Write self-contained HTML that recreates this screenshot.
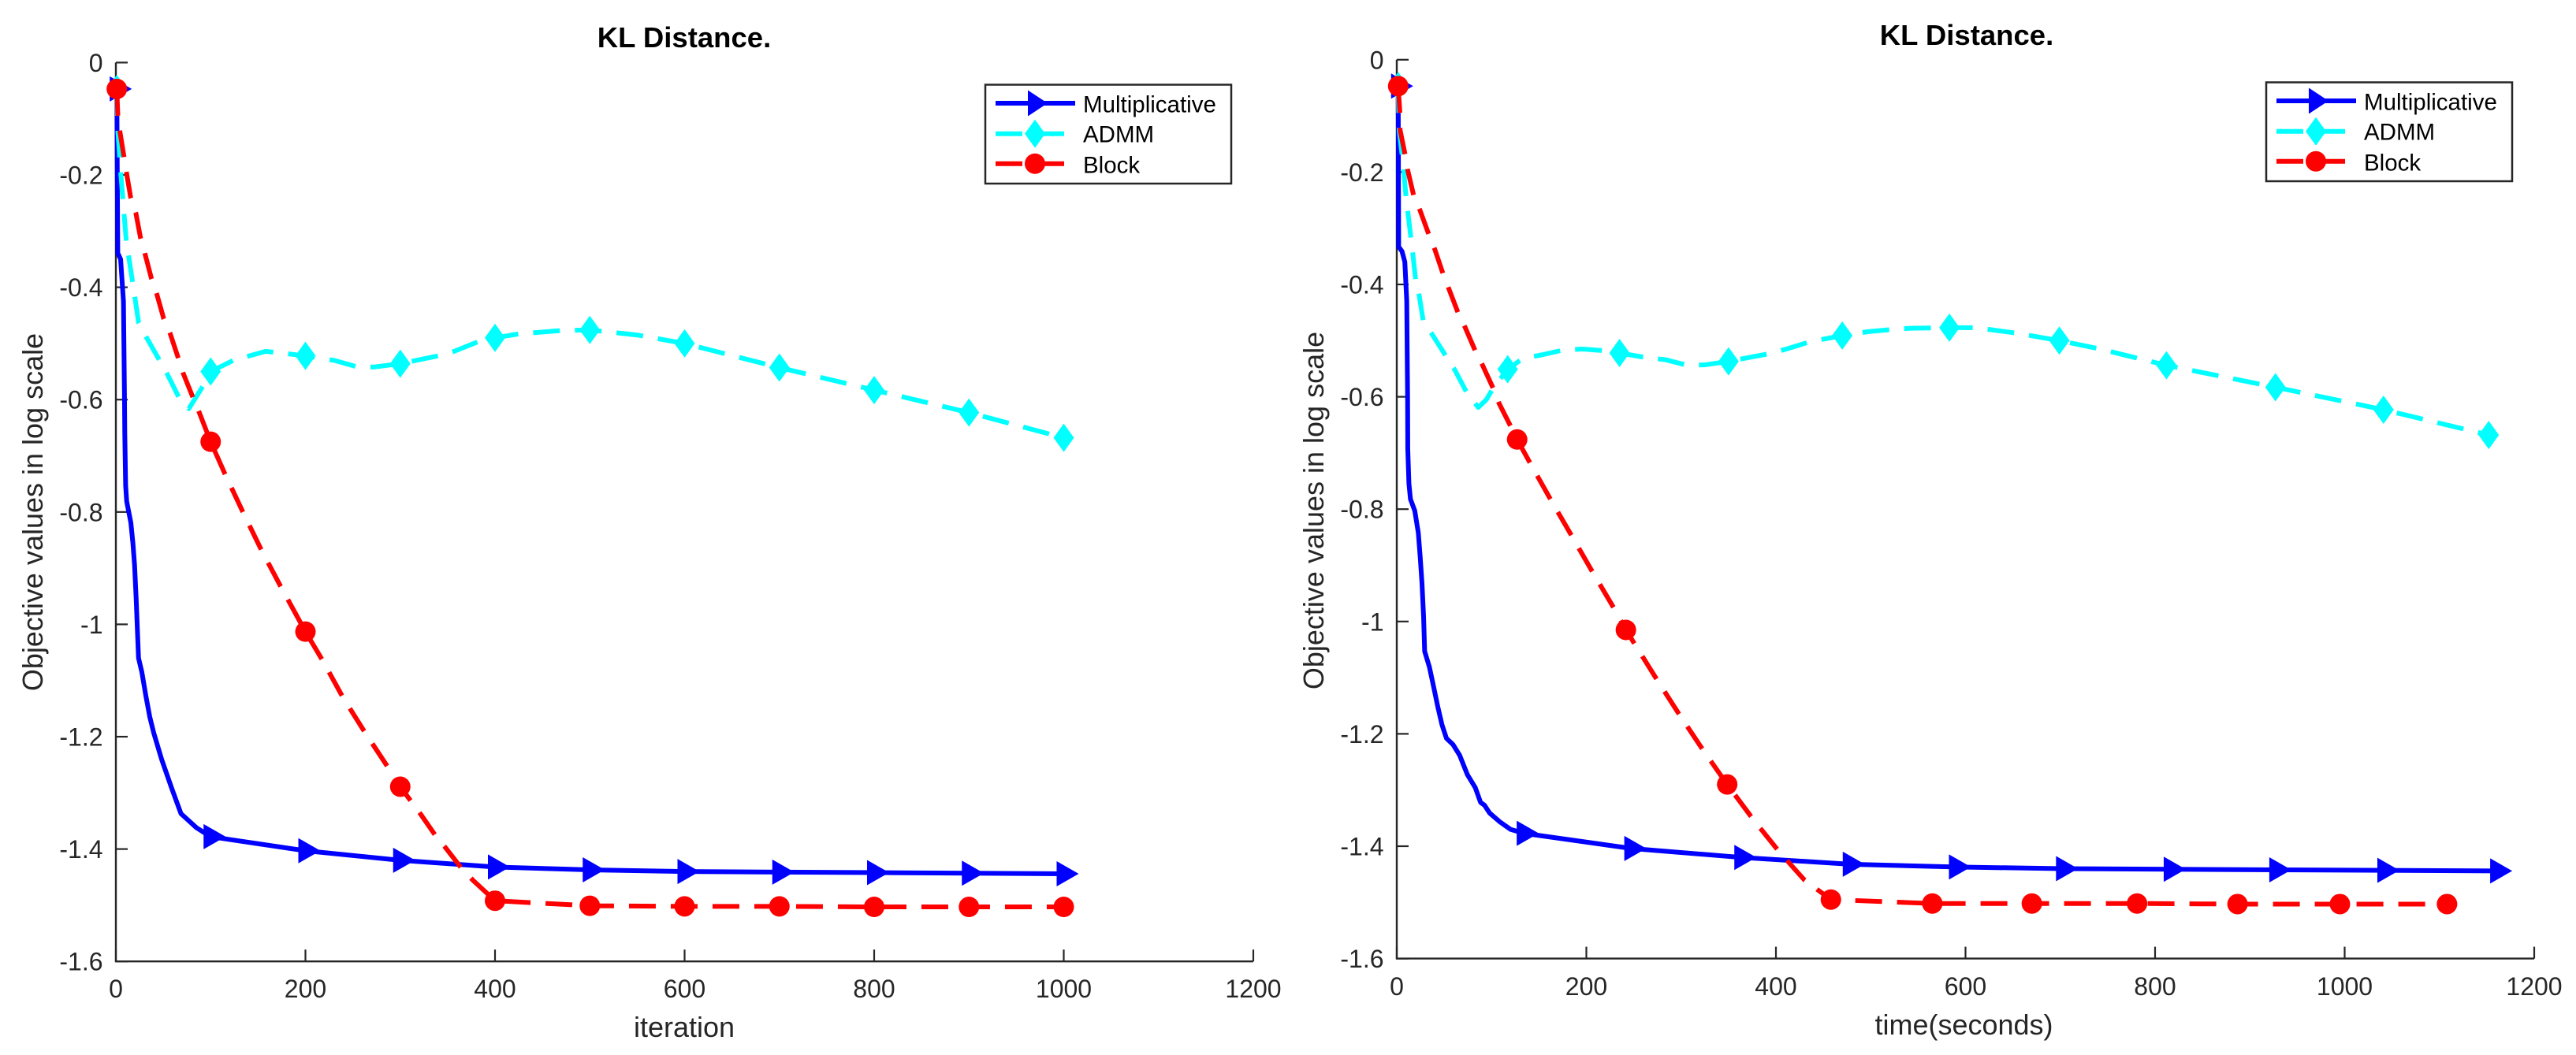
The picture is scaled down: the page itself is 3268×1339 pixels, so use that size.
<!DOCTYPE html>
<html>
<head>
<meta charset="utf-8">
<style>
html,body{margin:0;padding:0;background:#fff;}
svg{display:block;}
text{font-family:"Liberation Sans",Arial,sans-serif;}
.title{font-size:36.5px;font-weight:bold;fill:#000;text-anchor:middle;}
.axlabel{font-size:36px;fill:#262626;text-anchor:middle;}
.tick{font-size:32px;fill:#262626;}
.leg{font-size:29.5px;fill:#000;}
</style>
</head>
<body>
<svg id="fig" xmlns="http://www.w3.org/2000/svg" width="3268" height="1339" viewBox="0 0 3268 1339">
  <rect x="0" y="0" width="3268" height="1339" fill="#fff"/>
  <g id="panel-iter"></g>
  <g id="panel-time"></g>

  <text class="title" x="868" y="60">KL Distance.</text>
  <text class="axlabel" x="868" y="1316">iteration</text>
  <text class="axlabel" transform="translate(54,650) rotate(-90)">Objective values in log scale</text>

  <text class="title" x="2495" y="57">KL Distance.</text>
  <text class="axlabel" x="2491.5" y="1313">time(seconds)</text>
  <text class="axlabel" transform="translate(1679,648) rotate(-90)">Objective values in log scale</text>

  <g transform="translate(-1625,3)">
    <rect x="2875" y="104.5" width="312" height="125.5" fill="#fff" stroke="#262626" stroke-width="2.5"/>
    <g>
      <line x1="2888" y1="128" x2="2989" y2="128" stroke="#0000ff" stroke-width="6"/>
      <polygon points="2929,111.5 2954,128 2929,144.5" fill="#0000ff"/>
      <text class="leg" x="2999" y="139.3">Multiplicative</text>
    </g>
    <g>
      <line x1="2888" y1="166.7" x2="2975" y2="166.7" stroke="#00ffff" stroke-width="6" stroke-dasharray="34 19"/>
      <polygon points="2925,166.7 2938,148.7 2951,166.7 2938,184.7" fill="#00ffff"/>
      <text class="leg" x="2999" y="177.7">ADMM</text>
    </g>
    <g>
      <line x1="2888" y1="204.7" x2="2975" y2="204.7" stroke="#ff0000" stroke-width="6" stroke-dasharray="34 19"/>
      <circle cx="2938" cy="204.7" r="13" fill="#ff0000"/>
      <text class="leg" x="2999" y="216.7">Block</text>
    </g>
  </g>

  <g>
    <rect x="2875" y="104.5" width="312" height="125.5" fill="#fff" stroke="#262626" stroke-width="2.5"/>
    <g>
      <line x1="2888" y1="128" x2="2989" y2="128" stroke="#0000ff" stroke-width="6"/>
      <polygon points="2929,111.5 2954,128 2929,144.5" fill="#0000ff"/>
      <text class="leg" x="2999" y="139.3">Multiplicative</text>
    </g>
    <g>
      <line x1="2888" y1="166.7" x2="2975" y2="166.7" stroke="#00ffff" stroke-width="6" stroke-dasharray="34 19"/>
      <polygon points="2925,166.7 2938,148.7 2951,166.7 2938,184.7" fill="#00ffff"/>
      <text class="leg" x="2999" y="177.7">ADMM</text>
    </g>
    <g>
      <line x1="2888" y1="204.7" x2="2975" y2="204.7" stroke="#ff0000" stroke-width="6" stroke-dasharray="34 19"/>
      <circle cx="2938" cy="204.7" r="13" fill="#ff0000"/>
      <text class="leg" x="2999" y="216.7">Block</text>
    </g>
  </g>
</svg>
<script>
const xTicks = [0, 200, 400, 600, 800, 1000, 1200];
const yTicks = [0, -0.2, -0.4, -0.6, -0.8, -1, -1.2, -1.4, -1.6];
const xTickLabels = ['0', '200', '400', '600', '800', '1000', '1200'];
const yTickLabels = ['0', '-0.2', '-0.4', '-0.6', '-0.8', '-1', '-1.2', '-1.4', '-1.6'];

const iterBlueX = [1,1.5,2,5,8,9.1,9.4,10.3,11.4,13.6,15.8,18,19.7,21.4,22.7,23.9,27.4,31.6,35.8,39.9,48.2,58.5,68.7,85,100,200,300,400,500,600,700,800,900,1000];
const iterBlueY = [-0.047,-0.2,-0.339,-0.35,-0.425,-0.599,-0.66,-0.753,-0.781,-0.8,-0.819,-0.856,-0.894,-0.954,-1.01,-1.06,-1.085,-1.127,-1.165,-1.193,-1.24,-1.29,-1.337,-1.362,-1.378,-1.403,-1.42,-1.432,-1.437,-1.44,-1.441,-1.442,-1.443,-1.444];
const iterBlueMarks = [1,100,200,300,400,500,600,700,800,900,1000];

const iterAdmmX = [1,2,5,11,17.6,24,32.5,45,54,66.5,77,90,100,124,158,200,230,253,272,300,340,357,382,400,425,470,500,550,600,700,800,900,1000];
const iterAdmmY = [-0.047,-0.119,-0.194,-0.318,-0.39,-0.463,-0.49,-0.527,-0.554,-0.596,-0.616,-0.581,-0.55,-0.53,-0.514,-0.522,-0.53,-0.541,-0.542,-0.536,-0.522,-0.514,-0.497,-0.49,-0.483,-0.477,-0.476,-0.485,-0.5,-0.543,-0.583,-0.623,-0.668];
const iterAdmmMarks = [1,100,200,300,400,500,600,700,800,900,1000];

const iterBlockX = [1,2,4,8.5,11,15.6,21,26,30.5,37.6,43,50.5,57,66,71,81.5,88,100,115,134,153.6,174,200,218,239.5,263,286.5,300,322,338,348,365,377,400,500,600,700,800,900,1000];
const iterBlockY = [-0.047,-0.092,-0.12,-0.167,-0.194,-0.24,-0.267,-0.312,-0.339,-0.385,-0.411,-0.456,-0.481,-0.527,-0.553,-0.597,-0.623,-0.675,-0.732,-0.8,-0.868,-0.933,-1.013,-1.064,-1.13,-1.193,-1.253,-1.289,-1.339,-1.378,-1.398,-1.435,-1.456,-1.492,-1.501,-1.502,-1.502,-1.503,-1.503,-1.503];
const iterBlockMarks = [1,100,200,300,400,500,600,700,800,900,1000];

const timeBlueX = [1.5,2,5.5,8.5,10.5,11.4,11.6,12.8,14.4,19,22.7,24.7,26.6,28.3,29.4,34.4,38.6,43.3,47.7,52.4,59.3,66.3,74.6,82.9,88.4,92.5,98,109,120,134,247.5,363.6,478,590,703,816.6,928,1042,1161];
const timeBlueY = [-0.047,-0.333,-0.341,-0.36,-0.429,-0.6,-0.693,-0.754,-0.782,-0.803,-0.842,-0.885,-0.932,-0.992,-1.053,-1.081,-1.114,-1.152,-1.184,-1.208,-1.219,-1.238,-1.273,-1.296,-1.322,-1.327,-1.341,-1.357,-1.37,-1.377,-1.404,-1.42,-1.432,-1.437,-1.44,-1.441,-1.442,-1.443,-1.444];
const timeBlueMarks = [1.5,134,247.5,363.6,478,590,703,816.6,928,1042,1161];

const timeAdmmX = [1.5,2.5,5.5,7.5,9.7,11.7,15,17,20,23.7,28,37,52,61.5,74,86,94.5,102,117,132.7,154,175,196,219.6,235,262,283.4,306.7,325.8,350,393.7,411,436,470,497.5,523.6,541.5,583,611,655,699,742,785.6,812,927,1041,1152];
const timeAdmmY = [-0.047,-0.125,-0.168,-0.2,-0.243,-0.272,-0.318,-0.347,-0.393,-0.42,-0.466,-0.488,-0.528,-0.553,-0.593,-0.619,-0.605,-0.584,-0.551,-0.532,-0.525,-0.517,-0.515,-0.518,-0.522,-0.53,-0.534,-0.544,-0.543,-0.537,-0.523,-0.515,-0.502,-0.491,-0.484,-0.48,-0.478,-0.477,-0.477,-0.487,-0.5,-0.515,-0.533,-0.544,-0.583,-0.623,-0.668];
const timeAdmmMarks = [1.5,117,235,350,470,583,699,812,927,1041,1152];

const timeBlockX = [1.5,3.3,3.5,8.9,11.6,18,24.5,34,40,49,55,65,72,83,90.3,102,108,120.6,127,141,163,185.4,207.6,229.7,241.7,275,299,324,348.6,375,403,430,458,565,670,781,887,995,1108];
const timeBlockY = [-0.047,-0.095,-0.125,-0.17,-0.197,-0.243,-0.268,-0.312,-0.337,-0.382,-0.408,-0.452,-0.476,-0.519,-0.543,-0.586,-0.612,-0.654,-0.676,-0.719,-0.785,-0.85,-0.915,-0.978,-1.015,-1.105,-1.168,-1.231,-1.29,-1.35,-1.409,-1.46,-1.495,-1.502,-1.502,-1.502,-1.503,-1.503,-1.503];
const timeBlockMarks = [1.5,127,241.7,348.6,458,565,670,781,887,995,1108];

const NS = 'http://www.w3.org/2000/svg';
const AXIS_COLOR = '#262626';

function el(parent, tag, attrs) {
  const node = document.createElementNS(NS, tag);
  for (const key in attrs) node.setAttribute(key, attrs[key]);
  parent.appendChild(node);
  return node;
}

function drawPanel(root, prefix, left, top, xTickBaseline, labelRight, seriesList) {
  const xScale = v => left + v * 1.2025;
  const yScale = v => top - v * 713;
  const bottom = yScale(-1.6);
  const right = xScale(1200);

  const axes = el(root, 'path', {
    d: 'M' + left + ' ' + top + 'V' + bottom + 'H' + right,
    fill: 'none', stroke: AXIS_COLOR, 'stroke-width': 2.4
  });
  
  

  xTicks.forEach(function (v, i) {
    const tick = el(root, 'line', {
      x1: xScale(v), x2: xScale(v), y1: bottom, y2: bottom - 15,
      stroke: AXIS_COLOR, 'stroke-width': 2.2
    });
    
    
    const label = el(root, 'text', {
      x: xScale(v), y: xTickBaseline, class: 'tick', 'text-anchor': 'middle'
    });
    label.textContent = xTickLabels[i];
    
    
  });

  yTicks.forEach(function (v, i) {
    const tick = el(root, 'line', {
      x1: left, x2: left + 15, y1: yScale(v), y2: yScale(v),
      stroke: AXIS_COLOR, 'stroke-width': 2.2
    });
    
    
    const label = el(root, 'text', {
      x: labelRight, y: yScale(v) + 11.5, class: 'tick', 'text-anchor': 'end'
    });
    label.textContent = yTickLabels[i];
    
    
  });

  seriesList.forEach(function (s) {
    const group = el(root, 'g', {});
    
    

    const points = s.x.map(function (v, i) { return xScale(v).toFixed(2) + ',' + yScale(s.y[i]).toFixed(2); }).join(' ');
    const attrs = { points: points, fill: 'none', stroke: s.color, 'stroke-width': 6, 'stroke-linejoin': 'round' };
    if (s.dashed) attrs['stroke-dasharray'] = '34 19';
    const line = el(group, 'polyline', attrs);
    
    

    s.marks.forEach(function (m) {
      const idx = s.x.indexOf(m);
      const cx = xScale(s.x[idx]);
      const cy = yScale(s.y[idx]);
      let mark;
      if (s.shape === 'triangle') {
        mark = el(group, 'polygon', {
          points: (cx - 9) + ',' + (cy - 16) + ' ' + (cx + 19) + ',' + cy + ' ' + (cx - 9) + ',' + (cy + 16),
          fill: s.color
        });
      } else if (s.shape === 'diamond') {
        mark = el(group, 'polygon', {
          points: (cx - 13) + ',' + cy + ' ' + cx + ',' + (cy - 18) + ' ' + (cx + 13) + ',' + cy + ' ' + cx + ',' + (cy + 18),
          fill: s.color
        });
      } else {
        mark = el(group, 'circle', { cx: cx, cy: cy, r: 13, fill: s.color });
      }
      
      
    });
  });
}

drawPanel(document.getElementById('panel-iter'), 'left', 147, 79.4, 1266, 130.5, [
  { name: 'multiplicative', x: iterBlueX, y: iterBlueY, marks: iterBlueMarks, color: '#0000ff', dashed: false, shape: 'triangle' },
  { name: 'admm', x: iterAdmmX, y: iterAdmmY, marks: iterAdmmMarks, color: '#00ffff', dashed: true, shape: 'diamond' },
  { name: 'block', x: iterBlockX, y: iterBlockY, marks: iterBlockMarks, color: '#ff0000', dashed: true, shape: 'circle' }
]);

drawPanel(document.getElementById('panel-time'), 'right', 1772, 75.8, 1263, 1755.5, [
  { name: 'multiplicative', x: timeBlueX, y: timeBlueY, marks: timeBlueMarks, color: '#0000ff', dashed: false, shape: 'triangle' },
  { name: 'admm', x: timeAdmmX, y: timeAdmmY, marks: timeAdmmMarks, color: '#00ffff', dashed: true, shape: 'diamond' },
  { name: 'block', x: timeBlockX, y: timeBlockY, marks: timeBlockMarks, color: '#ff0000', dashed: true, shape: 'circle' }
]);
</script>
</body>
</html>
